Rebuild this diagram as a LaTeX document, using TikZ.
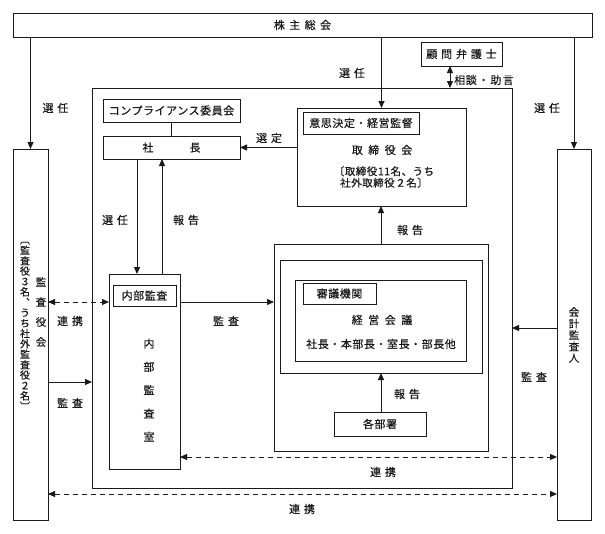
\documentclass[tikz,border=0pt]{standalone}
\usepackage{fontspec}
\setmainfont{Noto Sans CJK JP}[LetterSpace=5,FakeBold=0.5]
\usetikzlibrary{arrows.meta}
\definecolor{ink}{HTML}{1A1A1A}
\newcommand\jsp{\hspace{.35em}}
\newcommand\tightls{\lineskiplimit=-5pt\relax}
\begin{document}
\begin{tikzpicture}[x=1pt,y=-1pt,
  every node/.style={font=\fontsize{11}{13}\selectfont, text=ink},
  box/.style={draw=ink, line width=1pt, inner sep=0pt, outer sep=0pt, anchor=north west},
  conn/.style={draw=ink, line width=1pt},
  arr/.style={conn, -{Triangle[length=7pt,width=6pt]}},
  darr/.style={conn, {Triangle[length=7pt,width=6pt]}-{Triangle[length=7pt,width=6pt]}},
  dsh/.style={darr, dash pattern=on 5pt off 4pt},
]
\path[use as bounding box, fill=white] (0,0) rectangle (605,533);

% boxes
\node[box, minimum width=579pt, minimum height=24pt] (kabu) at (13,13) {株\hspace{.4em}主\hspace{.4em}総\hspace{.4em}会};
\node[box, minimum width=81pt, minimum height=24pt] (komon) at (421,42) {顧\jsp{}問\jsp{}弁\jsp{}護\jsp{}士};
\node[box, minimum width=420pt, minimum height=400pt] (big) at (92,88) {};
\node[box, minimum width=137pt, minimum height=23pt] (comp) at (103,99) {コンプライアンス委員会};
\node[box, minimum width=137pt, minimum height=23pt] (shacho) at (103,136) {社\hspace{36pt}長};
\node[box, minimum width=169pt, minimum height=98pt] (tori) at (297,108) {};
\node[box, minimum width=116pt, minimum height=22pt] (ishi) at (303,112) {意思決定・経営監督};
\node (toriT) at (382,150) {取\hspace{.5em}締\hspace{.5em}役\hspace{.5em}会};
\node[align=center, font={\fontsize{10.5}{11.5}\selectfont\tightls}] (toriM) at (384,177) {〔取締役11名、うち\\社外取締役２名〕};

\node[box, minimum width=71pt, minimum height=195pt] (naibu) at (109,274) {};
\node[box, minimum width=63pt, minimum height=21pt] (naibuL) at (113,285) {内部監査};
\node[align=center, font={\fontsize{11}{23.3}\selectfont}] (naibuT) at (149,390) {内\\部\\監\\査\\室};

\node[box, minimum width=214pt, minimum height=207pt] (shingi) at (274,244) {};
\node[box, minimum width=202pt, minimum height=113pt] (second) at (280,260) {};
\node[box, minimum width=171pt, minimum height=81pt] (keiei) at (295,280) {};
\node[box, minimum width=73pt, minimum height=21pt] (shingiL) at (303,283) {審議機関};
\node (keieiT) at (382,320) {経\hspace{.5em}営\hspace{.5em}会\hspace{.5em}議};
\node (keieiM) at (381,344) {社長・本部長・室長・部長他};
\node[box, minimum width=92pt, minimum height=24pt] (kakubu) at (334,412) {各部署};

\node[box, minimum width=35pt, minimum height=371pt] (kansa) at (13,149) {};
\node[align=center, font={\fontsize{10.5}{20}\selectfont}] (kansaA) at (41,312) {監\\査\\役\\会};
\node[align=center, font={\fontsize{10}{10.4}\selectfont\tightls}] (kansaB) at (25,326) {︹\\監\\査\\役\\３\\名\\︑\\う\\ち\\社\\外\\監\\査\\役\\２\\名\\︺};

\node[box, minimum width=34pt, minimum height=371pt] (kaikei) at (557,149) {};
\node[align=center, font={\fontsize{10.5}{11.5}\selectfont\tightls}] (kaikeiT) at (574,335) {会\\計\\監\\査\\人};

% helper coordinates
\coordinate (kx) at (450,0);
\coordinate (xs) at (137,0);
\coordinate (xr) at (162,0);
\coordinate (y1) at (0,302);
\coordinate (y2) at (0,382);
\coordinate (y3) at (0,328);
\coordinate (y4) at (0,457);
\coordinate (y5) at (0,494);

% connectors
\draw[arr] (kabu.south -| kansa.north) -- (kansa.north);
\draw[arr] (kabu.south -| kaikei.north) -- (kaikei.north);
\draw[arr] (kabu.south -| tori.north) -- (tori.north);
\draw[darr] (komon.south -| kx) -- (big.north -| kx);
\draw[conn] (comp.south) -- (shacho.north);
\draw[arr] (tori.west |- shacho.east) -- (shacho.east);
\draw[arr] (shacho.south -| xs) -- (naibu.north -| xs);
\draw[arr] (naibu.north -| xr) -- (shacho.south -| xr);
\draw[arr] (naibu.east |- y1) -- (shingi.west |- y1);
\draw[dsh] (kansa.east |- y1) -- (naibu.west |- y1);
\draw[arr] (kansa.east |- y2) -- (big.west |- y2);
\draw[arr] (shingi.north) -- (shingi.north |- tori.south);
\draw[arr] (kakubu.north -| second.south) -- (second.south);
\draw[arr] (kaikei.west |- y3) -- (big.east |- y3);
\draw[dsh] (naibu.east |- y4) -- (kaikei.west |- y4);
\draw[dsh] (kansa.east |- y5) -- (kaikei.west |- y5);

% labels
\node (l1) at (55.5,108) {選\jsp{}任};
\node (l2) at (352,73) {選\jsp{}任};
\node (l3) at (547,108) {選\jsp{}任};
\node[anchor=west, inner sep=0pt] (l4) at (454,80) {相談\hspace{.12em}・\hspace{.12em}助\hspace{.12em}言};
\node (l5) at (269,138) {選\jsp{}定};
\node (l6) at (115,220) {選\jsp{}任};
\node (l7) at (186,220) {報\jsp{}告};
\node (l8) at (226,321) {監\jsp{}査};
\node (l9) at (70,321) {連\jsp{}携};
\node (l10) at (70,403) {監\jsp{}査};
\node (l11) at (410,230) {報\jsp{}告};
\node (l12) at (407,394) {報\jsp{}告};
\node (l13) at (534,377) {監\jsp{}査};
\node (l14) at (383,472) {連\jsp{}携};
\node (l15) at (302,509) {連\jsp{}携};
\end{tikzpicture}
\end{document}
